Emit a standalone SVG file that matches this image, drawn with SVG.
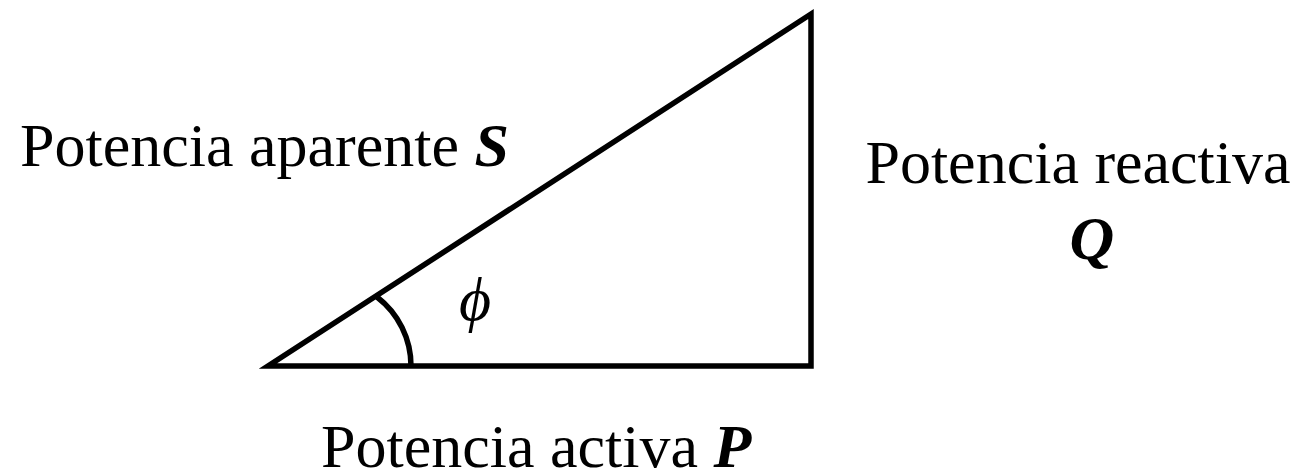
<svg xmlns="http://www.w3.org/2000/svg" width="1310" height="476" viewBox="0 0 1310 476">
<style>
.lbl{font-family:"Liberation Serif","Times New Roman",serif;font-size:62px;fill:#000}
.var{font-weight:bold;font-style:italic}
.edge{fill:none;stroke:#000;stroke-width:5.5;stroke-linejoin:miter;stroke-miterlimit:10}
</style>
<rect width="1310" height="476" fill="#fff"/>
<g id="connectors">
<path id="triangle" class="edge" d="M268 366 L811 366 L811 14 Z"/>
<path id="angle-arc" class="edge" d="M377 297 A87 87 0 0 1 411 366"/>
</g>
<g id="node-S"><text class="lbl" x="20" y="166">Potencia aparente <tspan class="var">S</tspan></text></g>
<g id="node-Q"><text class="lbl" x="1078" y="183" text-anchor="middle" font-size="62.5">Potencia reactiva</text>
<text class="lbl var" x="1092" y="259" text-anchor="middle">Q</text></g>
<g id="node-P"><text class="lbl" x="321" y="467" font-size="61">Potencia activa <tspan class="var">P</tspan></text></g>
<g id="node-phi"><text class="lbl" x="475" y="320" text-anchor="middle" font-style="italic" font-size="84">ϕ</text></g>
</svg>
